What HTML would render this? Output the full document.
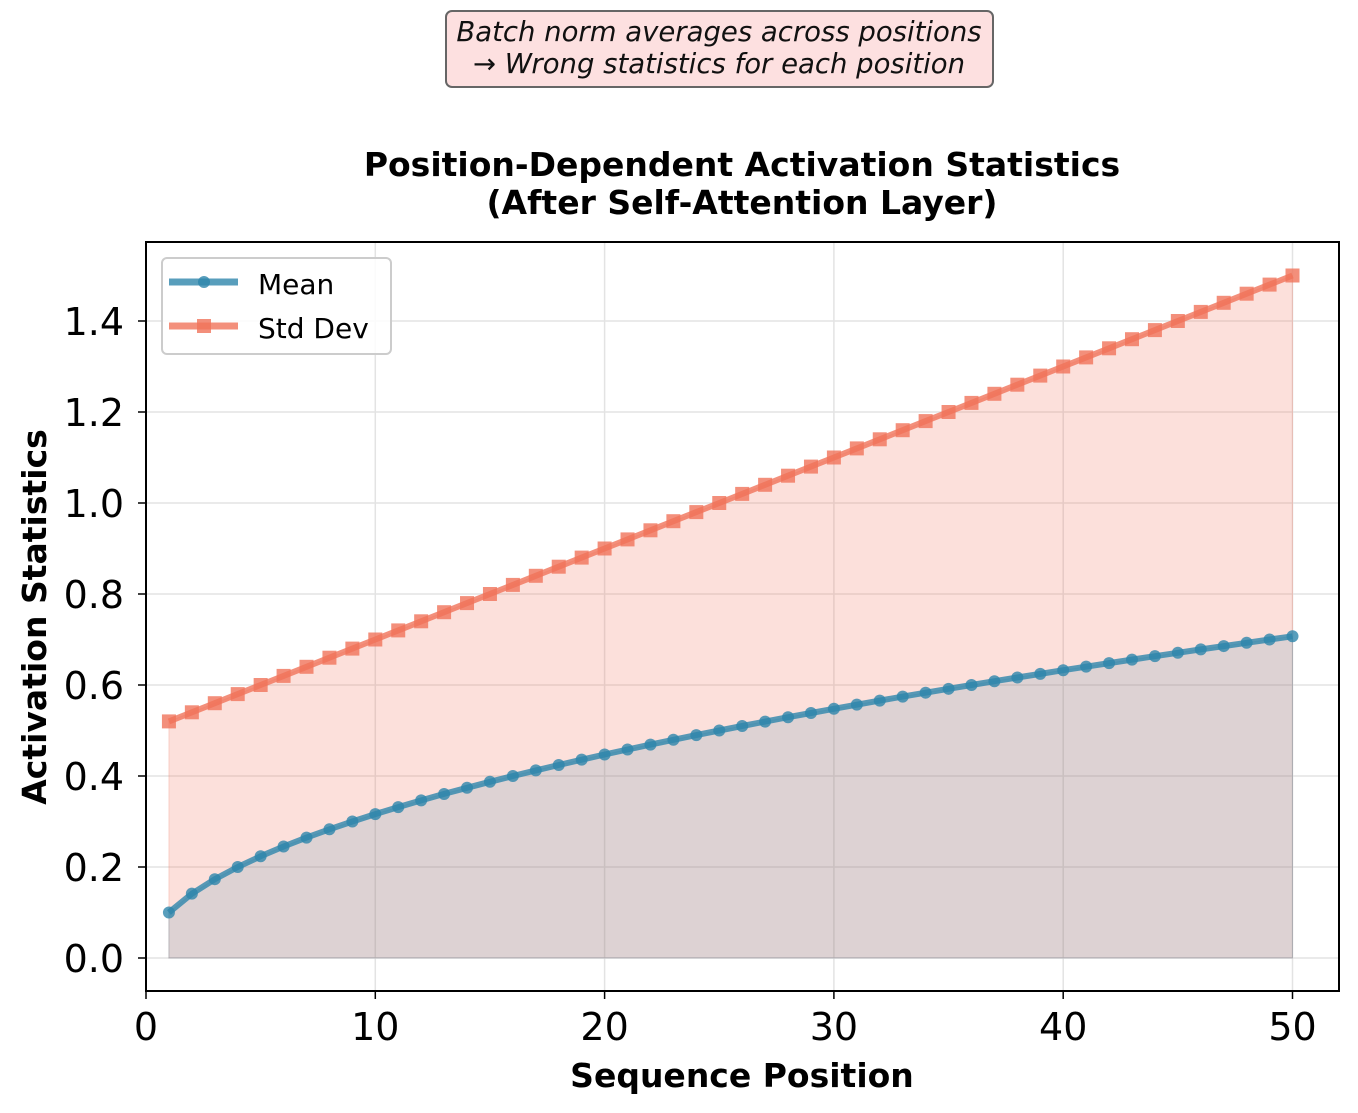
<!DOCTYPE html>
<html><head><meta charset="utf-8"><style>
body{margin:0;background:#fff}
svg{display:block;font-family:"DejaVu Sans","Liberation Sans",sans-serif}
</style></head><body>
<svg id="s" width="1358" height="1113" xmlns="http://www.w3.org/2000/svg">
<rect width="1358" height="1113" fill="#fff"/>
<rect x="446" y="11" width="547" height="76" rx="6" fill="#fde0e0" stroke="#666" stroke-width="2"/>
<text x="719" y="41" text-anchor="middle" font-size="27.5" font-style="italic" fill="#111">Batch norm averages across positions</text>
<text x="719" y="73" text-anchor="middle" font-size="27.5" font-style="italic" fill="#111">→ Wrong statistics for each position</text>
<text x="742" y="176" text-anchor="middle" font-size="33" font-weight="bold">Position-Dependent Activation Statistics</text>
<text x="742" y="214" text-anchor="middle" font-size="33" font-weight="bold">(After Self-Attention Layer)</text>
<g id="grid" stroke="#e3e3e3" stroke-width="1.5"></g>
<g id="plot"></g>
<rect x="146" y="242" width="1193" height="749" fill="none" stroke="#000" stroke-width="2"/>
<g id="ticks" font-size="38" fill="#000"></g>
<text x="742" y="1087" text-anchor="middle" font-size="33" font-weight="bold">Sequence Position</text>
<text transform="translate(46,617) rotate(-90)" text-anchor="middle" font-size="33" font-weight="bold">Activation Statistics</text>
<rect x="162" y="258" width="229" height="96" rx="5" fill="#fff" fill-opacity="0.85" stroke="#ccc" stroke-width="2"/>
<line x1="169" y1="282" x2="238" y2="282" stroke="#2E86AB" stroke-opacity="0.8" stroke-width="7"/>
<circle cx="204" cy="282" r="6" fill="#2E86AB" fill-opacity="0.8"/>
<line x1="169" y1="326" x2="238" y2="326" stroke="#F0735A" stroke-opacity="0.8" stroke-width="7"/>
<rect x="197" y="319" width="14" height="14" fill="#F0735A" fill-opacity="0.8"/>
<text x="258" y="294" font-size="28">Mean</text>
<text x="258" y="338" font-size="28">Std Dev</text>
</svg>
<script>
var NS="http://www.w3.org/2000/svg";
function X(v){return 146+v*22.93;}
function Y(v){return 958-v*455;}
function el(p,t,a){var e=document.createElementNS(NS,t);for(var k in a)e.setAttribute(k,a[k]);document.getElementById(p).appendChild(e);return e;}
for(var i=0;i<=5;i++){var x=X(i*10);el("grid","line",{x1:x,x2:x,y1:242,y2:991});
 el("ticks","line",{x1:x,x2:x,y1:991,y2:999,stroke:"#000","stroke-width":1.5});
 var t=el("ticks","text",{x:x,y:1040,"text-anchor":"middle"});t.textContent=i*10;}
for(var j=0;j<=7;j++){var y=Y(j*0.2);el("grid","line",{x1:146,x2:1339,y1:y,y2:y});
 el("ticks","line",{x1:138,x2:146,y1:y,y2:y,stroke:"#000","stroke-width":1.5});
 var t=el("ticks","text",{x:124,y:y+14,"text-anchor":"end"});t.textContent=(j*0.2).toFixed(1);}
var m=[],s=[];
for(var i=1;i<=50;i++){m.push([X(i),Y(0.1*Math.sqrt(i))]);s.push([X(i),Y(0.52+0.02*(i-1))]);}
function pts(a){return a.map(function(p){return p[0].toFixed(1)+","+p[1].toFixed(1)}).join(" ");}
var base=X(50).toFixed(1)+","+Y(0)+" "+X(1).toFixed(1)+","+Y(0);
el("plot","polygon",{points:pts(s)+" "+base,fill:"#F0735A","fill-opacity":0.22,stroke:"#F0735A","stroke-opacity":0.25});
el("plot","polygon",{points:pts(m)+" "+base,fill:"#2E86AB","fill-opacity":0.15,stroke:"#2E86AB","stroke-opacity":0.25});
el("plot","polyline",{points:pts(m),fill:"none",stroke:"#2E86AB","stroke-opacity":0.8,"stroke-width":6});
el("plot","polyline",{points:pts(s),fill:"none",stroke:"#F0735A","stroke-opacity":0.8,"stroke-width":6});
m.forEach(function(p){el("plot","circle",{cx:p[0],cy:p[1],r:6,fill:"#2E86AB","fill-opacity":0.8});});
s.forEach(function(p){el("plot","rect",{x:p[0]-7,y:p[1]-7,width:14,height:14,fill:"#F0735A","fill-opacity":0.8});});
</script>
</body></html>
